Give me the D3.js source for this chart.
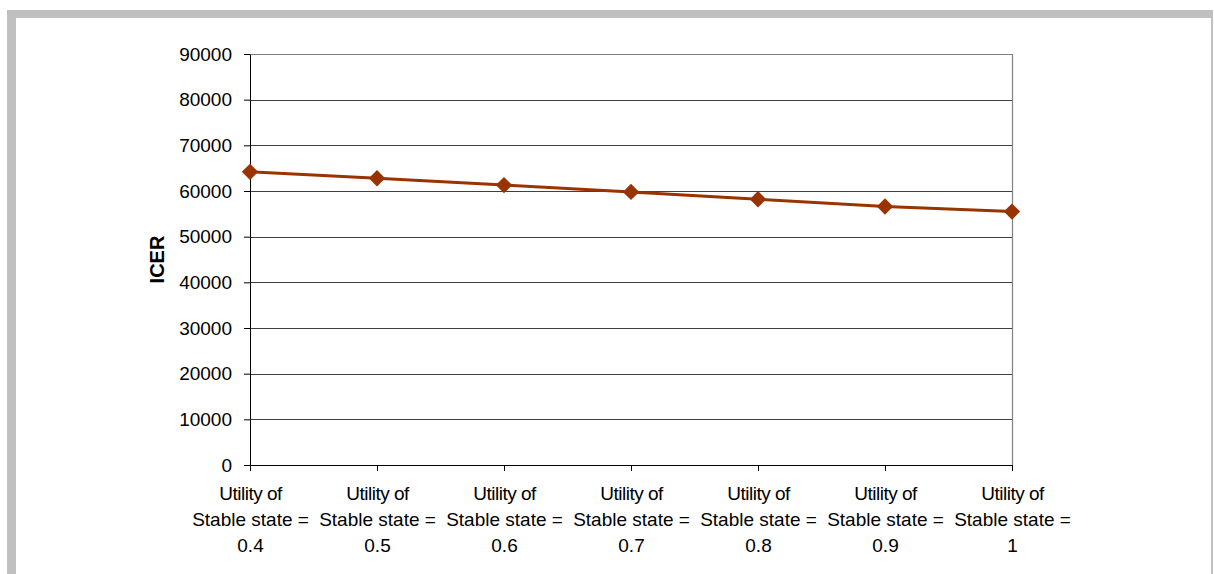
<!DOCTYPE html>
<html><head><meta charset="utf-8">
<script src="https://cdn.jsdelivr.net/npm/d3@7"></script>
<style>body{margin:0;background:#fff}svg{display:block;font-family:"Liberation Sans",Arial,sans-serif}</style>
</head><body><svg id="c" width="1214" height="574"></svg>
<script>
const categories = ["Utility of|Stable state =|0.4","Utility of|Stable state =|0.5","Utility of|Stable state =|0.6","Utility of|Stable state =|0.7","Utility of|Stable state =|0.8","Utility of|Stable state =|0.9","Utility of|Stable state =|1"];
const icerValues = [64200, 62800, 61300, 59800, 58200, 56600, 55500];
const yTicks = [0,10000,20000,30000,40000,50000,60000,70000,80000,90000];
const yLabel = "ICER";

const svg = d3.select("#c");
svg.append("rect").attr("x",7).attr("y",10).attr("width",1206).attr("height",580).attr("fill","#c0c0c0");
svg.append("rect").attr("x",16).attr("y",18).attr("width",1195).attr("height",570).attr("fill","#fff");

const L=250,R=1012,T=54,B=465;
const x = d3.scalePoint().domain(categories).range([L,R]).padding(0);
const y = d3.scaleLinear().domain([0,90000]).range([B,T]);

// gridlines
svg.append("g").selectAll("line").data(yTicks.filter(d=>d>0)).join("line")
  .attr("x1",L).attr("x2",R).attr("y1",d=>Math.round(y(d))+0.5).attr("y2",d=>Math.round(y(d))+0.5)
  .attr("stroke",d=>d===90000?"#808080":"#404040").attr("stroke-width",1.2);
svg.append("line").attr("x1",R+0.5).attr("x2",R+0.5).attr("y1",T).attr("y2",B).attr("stroke","#808080").attr("stroke-width",1.2);

// y axis
const ya = svg.append("g").attr("transform",`translate(${L},0)`)
  .call(d3.axisLeft(y).tickValues(yTicks).tickSize(6).tickSizeOuter(0).tickFormat(d3.format("d")));
ya.select(".domain").attr("stroke","#000");
ya.selectAll(".tick line").attr("stroke","#000");
ya.selectAll(".tick text").attr("font-size","19px").attr("fill","#000").attr("x",-18).attr("font-family","Liberation Sans, Arial, sans-serif");

// x axis
const xa = svg.append("g").attr("transform",`translate(0,${B})`)
  .call(d3.axisBottom(x).tickSize(6).tickSizeOuter(0).tickFormat(""));
xa.select(".domain").attr("stroke","#000");
xa.selectAll(".tick line").attr("stroke","#000");
xa.selectAll(".tick").each(function(d){
  const parts=d.split("|");
  const t=d3.select(this).append("text").attr("text-anchor","middle").attr("fill","#000")
    .attr("font-size","19px").attr("font-family","Liberation Sans, Arial, sans-serif");
  parts.forEach((p,i)=>t.append("tspan").attr("x",0).attr("y",35+i*26).attr("letter-spacing",i===0?"-0.5px":"0px").text(p));
});

svg.append("text").attr("transform",`translate(164,${(T+B)/2}) rotate(-90)`)
  .attr("text-anchor","middle").attr("font-size","20px").attr("font-weight","bold").text(yLabel);

const line = d3.line().x((d,i)=>x(categories[i])).y(d=>y(d));
svg.append("path").datum(icerValues).attr("d",line).attr("fill","none").attr("stroke","#993300").attr("stroke-width",3);
svg.append("g").selectAll("path").data(icerValues).join("path")
  .attr("d",d3.symbol().type(d3.symbolDiamond2).size(170))
  .attr("transform",(d,i)=>`translate(${x(categories[i])},${y(d)})`)
  .attr("fill","#993300");
</script></body></html>
